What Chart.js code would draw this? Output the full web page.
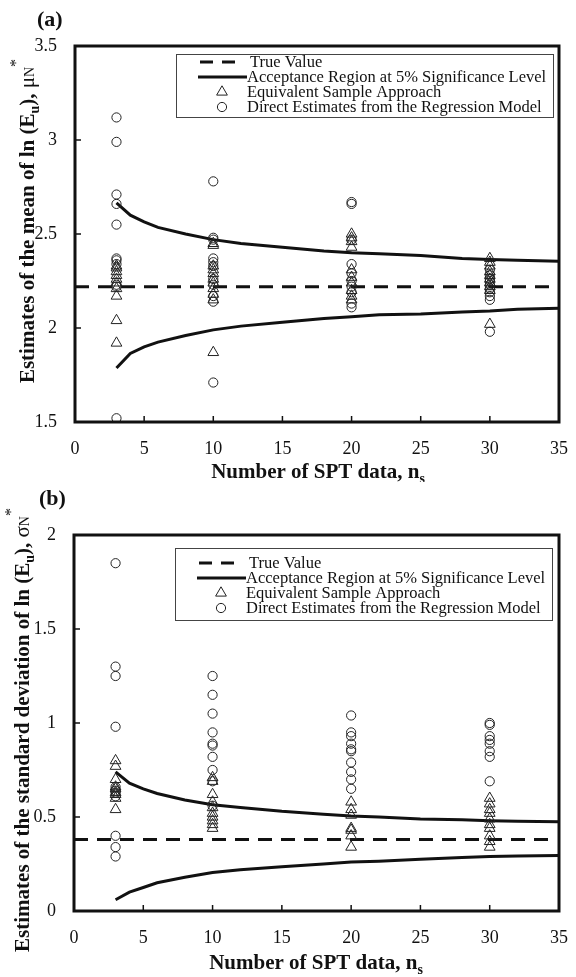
<!DOCTYPE html>
<html>
<head>
<meta charset="utf-8">
<script src="https://cdn.jsdelivr.net/npm/chart.js@4.4.1/dist/chart.umd.min.js"></script>
<style>
  body { margin: 0; background: #fff; }
  .panel { position: absolute; left: 0; width: 576px; }
</style>
</head>
<body>
<div class="panel" style="top:0;height:482px"><canvas id="chartA" width="576" height="482"></canvas></div>
<div class="panel" style="top:482px;height:495px"><canvas id="chartB" width="576" height="495"></canvas></div>
<script>
"use strict";

const serif = '"Liberation Serif", "Times New Roman", serif';

// number of SPT data for each simulated group
const sampleSizes = [3, 10, 20, 30];
const xTicks = [0, 5, 10, 15, 20, 25, 30, 35];

// n values at which the acceptance curves were read
const curveN = [3, 4, 5, 6, 8, 10, 12, 15, 18, 20, 22, 25, 28, 30, 32, 35];
const trueLineX = [0, 34.3];

// (a) mean of ln(Eu)
const meanTicks = [1.5, 2, 2.5, 3, 3.5];
const meanTrue = 2.22;
const meanUpper = [2.665, 2.60, 2.565, 2.535, 2.50, 2.47, 2.45, 2.43, 2.41, 2.40, 2.395, 2.385, 2.37, 2.365, 2.36, 2.355];
const meanLower = [1.787, 1.865, 1.90, 1.925, 1.96, 1.99, 2.01, 2.03, 2.05, 2.06, 2.07, 2.075, 2.085, 2.09, 2.10, 2.105];
const meanEsa = [
    [2.33, 2.32, 2.30, 2.28, 2.26, 2.24, 2.21, 2.17, 2.04, 1.92],
    [2.45, 2.44, 2.33, 2.31, 2.29, 2.26, 2.24, 2.21, 2.18, 2.15, 1.87],
    [2.50, 2.48, 2.46, 2.43, 2.31, 2.27, 2.24, 2.20, 2.17, 2.15],
    [2.37, 2.35, 2.33, 2.30, 2.28, 2.26, 2.24, 2.22, 2.20, 2.02]
];
const meanDirect = [
    [3.12, 2.99, 2.71, 2.66, 2.55, 2.37, 2.36, 2.34, 2.23, 2.22, 1.52],
    [2.78, 2.48, 2.47, 2.37, 2.35, 2.33, 2.26, 2.23, 2.17, 2.14, 1.71],
    [2.67, 2.66, 2.47, 2.34, 2.29, 2.25, 2.22, 2.19, 2.13, 2.11],
    [2.31, 2.28, 2.26, 2.25, 2.23, 2.21, 2.19, 2.17, 2.15, 1.98]
];

// (b) standard deviation of ln(Eu)
const sdTicks = [0, 0.5, 1, 1.5, 2];
const sdTrue = 0.38;
const sdUpper = [0.74, 0.68, 0.65, 0.625, 0.59, 0.565, 0.55, 0.53, 0.515, 0.505, 0.50, 0.49, 0.485, 0.48, 0.478, 0.475];
const sdLower = [0.06, 0.10, 0.125, 0.15, 0.18, 0.205, 0.22, 0.235, 0.25, 0.26, 0.265, 0.275, 0.285, 0.29, 0.293, 0.295];
const sdEsa = [
    [0.80, 0.77, 0.70, 0.66, 0.65, 0.63, 0.62, 0.60, 0.54],
    [0.71, 0.69, 0.62, 0.58, 0.55, 0.52, 0.50, 0.48, 0.46, 0.44],
    [0.58, 0.54, 0.51, 0.44, 0.43, 0.40, 0.34],
    [0.60, 0.57, 0.54, 0.52, 0.49, 0.46, 0.44, 0.40, 0.37, 0.34]
];
const sdDirect = [
    [1.85, 1.30, 1.25, 0.98, 0.66, 0.64, 0.63, 0.61, 0.40, 0.34, 0.29],
    [1.25, 1.15, 1.05, 0.95, 0.89, 0.88, 0.82, 0.75, 0.69, 0.56],
    [1.04, 0.95, 0.93, 0.89, 0.86, 0.85, 0.79, 0.74, 0.70, 0.65],
    [1.00, 0.99, 0.93, 0.91, 0.89, 0.85, 0.82, 0.69]
];

const legendLabels = [
    'True Value',
    'Acceptance Region at 5% Significance Level',
    'Equivalent Sample Approach',
    'Direct Estimates from the Regression Model'
];

const groupPoints = (groups) => groups.flatMap((vals, i) => vals.map(v => ({x: sampleSizes[i], y: v})));
const curvePoints = (vals) => vals.map((v, i) => ({x: curveN[i], y: v}));

/**
 * draws a list of text pieces (sub / superscripts) centered at cx, cy
 */
function drawRich(ctx, segs, cx, cy, angle, base) {
    ctx.save();
    ctx.translate(cx, cy);
    ctx.rotate(angle);
    ctx.textBaseline = 'alphabetic';
    ctx.textAlign = 'left';
    let total = 0;
    segs.forEach(s => {
        ctx.font = s.font;
        total += ctx.measureText(s.text).width;
    });
    let u = -total / 2;
    segs.forEach(s => {
        ctx.font = s.font;
        ctx.fillText(s.text, u, base + (s.dy || 0));
        u += ctx.measureText(s.text).width;
    });
    ctx.restore();
}

const framePlugin = {
    id: 'panelFrame',
    afterDatasetsDraw(chart) {
        const {ctx, chartArea: a, scales: {x, y}} = chart;
        ctx.save();
        ctx.strokeStyle = '#111';
        ctx.lineWidth = 1.5;
        ctx.beginPath();
        x.ticks.forEach(t => {
            const px = x.getPixelForValue(t.value);
            ctx.moveTo(px, a.bottom);
            ctx.lineTo(px, a.bottom - 6);
        });
        y.ticks.forEach(t => {
            const py = y.getPixelForValue(t.value);
            ctx.moveTo(a.left, py);
            ctx.lineTo(a.left + 6, py);
        });
        ctx.stroke();
        ctx.lineWidth = 3;
        ctx.strokeRect(a.left, a.top, a.width, a.height);
        ctx.restore();
    }
};

const legendPlugin = {
    id: 'panelLegend',
    afterDraw(chart, args, opts) {
        const ctx = chart.ctx;
        const [l, t, r, b] = opts.box;
        ctx.save();
        ctx.fillStyle = '#fff';
        ctx.fillRect(l, t, r - l, b - t);
        ctx.strokeStyle = '#444';
        ctx.lineWidth = 1;
        ctx.strokeRect(l + 0.5, t + 0.5, r - l, b - t);

        let row = 0;
        chart.data.datasets.forEach(ds => {
            if (!ds.label) {
                return;
            }
            const y = opts.firstRow + row * opts.rowGap;
            let textX = l + 71;
            ctx.strokeStyle = '#111';
            if (ds.showLine) {
                ctx.lineWidth = 3;
                ctx.setLineDash(ds.borderDash ? [13, 9] : []);
                ctx.beginPath();
                ctx.moveTo(l + (ds.borderDash ? 24 : 22), y);
                ctx.lineTo(l + (ds.borderDash ? 63 : 71), y);
                ctx.stroke();
                ctx.setLineDash([]);
                textX = l + (ds.borderDash ? 74 : 71);
            } else {
                ctx.lineWidth = 1;
                ctx.fillStyle = 'rgba(0,0,0,0)';
                ctx.strokeStyle = ds.borderColor;
                Chart.helpers.drawPoint(ctx, {
                    pointStyle: ds.pointStyle,
                    radius: ds.pointRadius,
                    borderWidth: 1,
                    rotation: 0
                }, l + 46, y);
            }
            ctx.fillStyle = '#111';
            ctx.font = '16.5px ' + serif;
            ctx.textBaseline = 'middle';
            ctx.textAlign = 'left';
            ctx.fillText(ds.label, textX, y + 1);
            row++;
        });
        ctx.restore();
    }
};

const textPlugin = {
    id: 'panelText',
    afterDraw(chart, args, opts) {
        const ctx = chart.ctx;
        ctx.save();
        ctx.fillStyle = '#111';
        ctx.font = 'bold 22px ' + serif;
        ctx.textBaseline = 'middle';
        ctx.fillText(opts.tag, opts.tagAt[0], opts.tagAt[1]);
        drawRich(ctx, opts.xTitle, opts.xTitleAt[0], opts.xTitleAt[1], 0, 7);
        drawRich(ctx, opts.yTitle, opts.yTitleAt[0], opts.yTitleAt[1], -Math.PI / 2, 7);
        ctx.restore();
    }
};

function buildPanel(cfg) {
    const canvas = document.getElementById(cfg.id);
    const H = canvas.height;
    const area = cfg.area;

    const markerStyle = {
        showLine: false,
        borderColor: '#222',
        backgroundColor: 'rgba(0,0,0,0)',
        borderWidth: 1,
        order: 0
    };
    const lineStyle = {
        showLine: true,
        pointRadius: 0,
        borderColor: '#111',
        borderWidth: 3,
        tension: 0,
        fill: false,
        order: 1
    };

    return new Chart(canvas, {
        type: 'scatter',
        data: {
            datasets: [
                Object.assign({}, lineStyle, {
                    label: legendLabels[0],
                    data: trueLineX.map(x => ({x: x, y: cfg.trueValue})),
                    borderDash: [14, 9]
                }),
                Object.assign({}, lineStyle, {
                    label: legendLabels[1],
                    data: curvePoints(cfg.upper)
                }),
                Object.assign({}, lineStyle, {
                    data: curvePoints(cfg.lower)
                }),
                Object.assign({}, markerStyle, {
                    label: legendLabels[2],
                    data: groupPoints(cfg.esa),
                    pointStyle: 'triangle',
                    pointRadius: 6.2
                }),
                Object.assign({}, markerStyle, {
                    label: legendLabels[3],
                    data: groupPoints(cfg.direct),
                    pointStyle: 'circle',
                    pointRadius: 4.6
                })
            ]
        },
        options: {
            responsive: false,
            animation: false,
            events: [],
            layout: {
                padding: {left: 0, top: area.top, right: canvas.width - area.right, bottom: 0}
            },
            plugins: {
                legend: {display: false},
                tooltip: {enabled: false},
                panelLegend: cfg.legend,
                panelText: cfg.text
            },
            scales: {
                x: {
                    type: 'linear',
                    min: 0,
                    max: 35,
                    grid: {display: false},
                    border: {display: false},
                    afterBuildTicks: (s) => {
                        s.ticks = xTicks.map(v => ({value: v}));
                    },
                    afterFit: (s) => {
                        s.height = H - area.bottom;
                    },
                    ticks: {
                        autoSkip: false,
                        maxRotation: 0,
                        padding: 8,
                        color: '#111',
                        font: {family: serif, size: 18},
                        callback: v => String(v)
                    }
                },
                y: {
                    type: 'linear',
                    min: cfg.yTicks[0],
                    max: cfg.yTicks[cfg.yTicks.length - 1],
                    grid: {display: false},
                    border: {display: false},
                    afterBuildTicks: (s) => {
                        s.ticks = cfg.yTicks.map(v => ({value: v}));
                    },
                    afterFit: (s) => {
                        s.width = area.left;
                    },
                    ticks: {
                        padding: 10,
                        color: '#111',
                        font: {family: serif, size: 18},
                        callback: v => String(v)
                    }
                }
            }
        },
        plugins: [framePlugin, legendPlugin, textPlugin]
    });
}

const bold = 'bold 21px ' + serif;
const boldSub = 'bold 14px ' + serif;
const plain = '21px ' + serif;
const small = '14px ' + serif;
const star = '16px ' + serif;

const xTitle = [
    {text: 'Number of SPT data, n', font: bold},
    {text: 's', font: boldSub, dy: 5}
];

buildPanel({
    id: 'chartA',
    area: {left: 75, right: 561, top: 46, bottom: 422},
    yTicks: meanTicks,
    trueValue: meanTrue,
    upper: meanUpper,
    lower: meanLower,
    esa: meanEsa,
    direct: meanDirect,
    legend: {box: [176, 54, 553, 117], firstRow: 62, rowGap: 15},
    text: {
        tag: '(a)',
        tagAt: [37, 20],
        xTitle: xTitle,
        xTitleAt: [318, 471],
        yTitle: [
            {text: 'Estimates of the mean of ln (E', font: bold},
            {text: 'u', font: boldSub, dy: 5},
            {text: '), ', font: bold},
            {text: 'μ', font: plain},
            {text: 'N', font: small},
            {text: '*', font: star, dy: -13}
        ],
        yTitleAt: [27, 221]
    }
});

buildPanel({
    id: 'chartB',
    area: {left: 74, right: 559, top: 53, bottom: 429},
    yTicks: sdTicks,
    trueValue: sdTrue,
    upper: sdUpper,
    lower: sdLower,
    esa: sdEsa,
    direct: sdDirect,
    legend: {box: [175, 66, 552, 138], firstRow: 81, rowGap: 15},
    text: {
        tag: '(b)',
        tagAt: [39, 17],
        xTitle: xTitle,
        xTitleAt: [316, 480],
        yTitle: [
            {text: 'Estimates of the standard deviation of ln (E', font: bold},
            {text: 'u', font: boldSub, dy: 5},
            {text: '), ', font: bold},
            {text: 'σ', font: plain},
            {text: 'N', font: small},
            {text: '*', font: star, dy: -13}
        ],
        yTitleAt: [22, 248]
    }
});
</script>
</body>
</html>
